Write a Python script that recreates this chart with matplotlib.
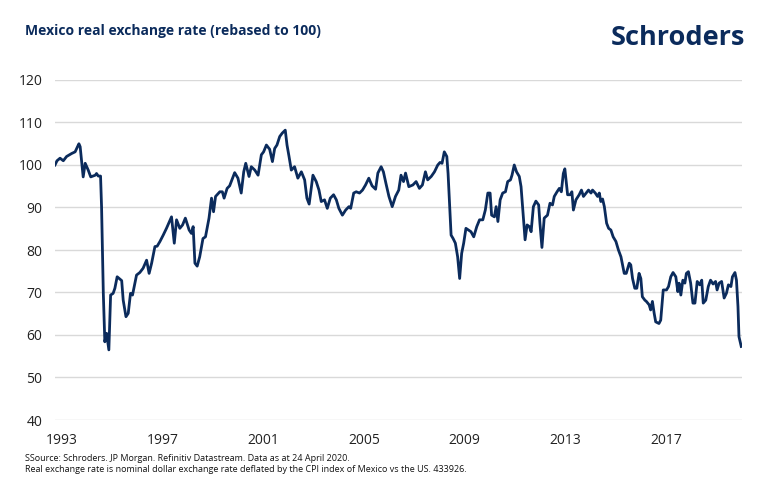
import matplotlib
matplotlib.use("Agg")
import matplotlib.pyplot as plt

# values (decimal year, index level)
years = [
    1993.00, 1993.08, 1993.20, 1993.33, 1993.46, 1993.66, 1993.80, 1993.95, 1994.00, 1994.12,
    1994.20, 1994.32, 1994.42, 1994.60, 1994.65, 1994.72, 1994.81, 1994.85, 1994.92, 1994.98,
    1995.05, 1995.14, 1995.21, 1995.31, 1995.38, 1995.47, 1995.65, 1995.71, 1995.82, 1995.91,
    1996.00, 1996.08, 1996.24, 1996.37, 1996.50, 1996.64, 1996.74, 1996.84, 1996.97, 1997.06,
    1997.17, 1997.30, 1997.43, 1997.63, 1997.74, 1997.83, 1997.96, 1998.07, 1998.18, 1998.33,
    1998.42, 1998.49, 1998.56, 1998.65, 1998.75, 1998.88, 1998.98, 1999.12, 1999.22, 1999.30,
    1999.38, 1999.55, 1999.65, 1999.72, 1999.84, 1999.94, 2000.14, 2000.27, 2000.40, 2000.50,
    2000.58, 2000.71, 2000.80, 2000.94, 2001.07, 2001.20, 2001.29, 2001.40, 2001.53, 2001.64,
    2001.73, 2001.82, 2001.93, 2002.03, 2002.15, 2002.22, 2002.30, 2002.39, 2002.52, 2002.65,
    2002.79, 2002.92, 2003.01, 2003.10, 2003.25, 2003.38, 2003.49, 2003.58, 2003.71, 2003.82,
    2003.94, 2004.07, 2004.18, 2004.28, 2004.42, 2004.55, 2004.68, 2004.75, 2004.87, 2004.97,
    2005.10, 2005.22, 2005.34, 2005.47, 2005.60, 2005.74, 2005.83, 2005.96, 2006.05, 2006.15,
    2006.27, 2006.40, 2006.53, 2006.66, 2006.75, 2006.85, 2006.93, 2007.06, 2007.22, 2007.35,
    2007.48, 2007.60, 2007.72, 2007.81, 2007.95, 2008.08, 2008.21, 2008.30, 2008.38, 2008.47,
    2008.57, 2008.62, 2008.74, 2008.82, 2008.91, 2009.00, 2009.08, 2009.16, 2009.24, 2009.33,
    2009.43, 2009.53, 2009.64, 2009.76, 2009.87, 2010.00, 2010.10, 2010.20, 2010.29, 2010.35,
    2010.46, 2010.53, 2010.60, 2010.69, 2010.79, 2010.90, 2010.99, 2011.10, 2011.16, 2011.25,
    2011.34, 2011.45, 2011.52, 2011.58, 2011.68, 2011.76, 2011.85, 2011.92, 2012.01, 2012.11,
    2012.22, 2012.27, 2012.35, 2012.44, 2012.57, 2012.67, 2012.77, 2012.84, 2012.95, 2013.04,
    2013.12, 2013.20, 2013.26, 2013.37, 2013.47, 2013.54, 2013.60, 2013.70, 2013.83, 2013.92,
    2014.00, 2014.12, 2014.20, 2014.30, 2014.36, 2014.47, 2014.56, 2014.63, 2014.69, 2014.76,
    2014.83, 2014.92, 2015.00, 2015.09, 2015.18, 2015.29, 2015.39, 2015.49, 2015.62, 2015.70,
    2015.82, 2015.88, 2015.95, 2016.04, 2016.12, 2016.21, 2016.28, 2016.34, 2016.44, 2016.50,
    2016.61, 2016.67, 2016.74, 2016.81, 2016.87, 2017.00, 2017.07, 2017.17, 2017.30, 2017.38,
    2017.47, 2017.56, 2017.67, 2017.75, 2017.80, 2017.87, 2017.95, 2018.03, 2018.09, 2018.17,
    2018.26, 2018.35, 2018.43, 2018.52, 2018.62, 2018.70, 2018.76, 2018.86, 2018.96, 2019.05,
    2019.15, 2019.25, 2019.31, 2019.39, 2019.49, 2019.59, 2019.68, 2019.76, 2019.86, 2019.92,
    2020.02, 2020.08, 2020.14, 2020.18, 2020.27,
]
rer = [
    100.0, 101.0, 101.6, 101.0, 102.0, 102.7, 103.1, 105.0, 104.3, 97.2,
    100.4, 98.8, 97.2, 97.6, 98.0, 97.4, 97.4, 90.2, 69.8, 58.4,
    60.4, 56.5, 69.4, 69.8, 71.0, 73.7, 72.8, 68.2, 64.3, 65.1,
    69.8, 69.4, 74.1, 74.7, 75.7, 77.6, 74.5, 76.9, 80.8, 80.9,
    82.0, 83.5, 85.1, 87.8, 81.6, 87.1, 85.1, 85.9, 87.5, 84.7,
    83.9, 85.5, 76.9, 76.2, 78.4, 82.7, 83.1, 87.5, 92.2, 89.0,
    92.6, 93.7, 93.7, 92.2, 94.5, 95.1, 98.2, 96.9, 93.4, 98.4,
    100.4, 97.3, 99.6, 98.8, 97.6, 102.4, 103.1, 104.7, 103.7, 100.8,
    103.9, 104.7, 106.7, 107.5, 108.2, 104.7, 102.0, 98.8, 99.6, 96.9,
    98.4, 96.5, 92.2, 90.8, 97.6, 96.1, 94.1, 91.4, 91.8, 89.8,
    92.2, 93.0, 91.8, 89.8, 88.2, 89.4, 90.2, 89.8, 93.4, 93.7,
    93.4, 94.1, 95.3, 96.9, 95.1, 94.3, 98.1, 99.6, 98.4, 95.7,
    92.6, 90.2, 92.6, 94.1, 97.6, 96.1, 98.1, 94.9, 95.3, 96.1,
    94.5, 95.3, 98.4, 96.5, 97.3, 98.4, 100.0, 100.6, 100.4, 103.1,
    102.0, 98.0, 83.5, 82.7, 81.6, 78.4, 73.3, 79.2, 81.6, 85.1,
    84.7, 84.3, 83.1, 85.5, 87.1, 87.1, 89.4, 93.4, 93.4, 88.2,
    87.8, 90.2, 86.7, 91.8, 93.4, 93.7, 96.1, 96.5, 97.6, 100.0,
    98.4, 97.3, 94.9, 90.2, 82.4, 85.9, 85.5, 84.3, 90.2, 91.5,
    90.6, 86.3, 80.6, 87.5, 88.2, 91.0, 90.6, 92.6, 93.7, 94.5,
    93.7, 98.0, 99.1, 93.0, 93.0, 93.7, 89.4, 91.8, 93.0, 94.1,
    92.6, 93.5, 94.1, 93.4, 94.1, 93.4, 92.6, 93.4, 91.4, 92.0,
    90.2, 86.3, 85.1, 84.7, 83.1, 82.0, 80.0, 78.4, 74.5, 74.5,
    76.9, 76.5, 73.3, 71.0, 71.0, 74.5, 73.3, 69.0, 68.2, 67.9,
    67.1, 65.9, 67.9, 65.1, 63.1, 62.7, 63.5, 70.6, 70.6, 71.4,
    73.7, 74.7, 73.7, 70.2, 72.2, 69.4, 72.9, 72.2, 74.5, 74.9,
    72.2, 67.5, 67.5, 72.6, 71.8, 72.9, 67.5, 68.2, 71.4, 72.9,
    72.0, 72.6, 70.6, 72.2, 72.6, 68.7, 69.8, 71.8, 71.4, 73.7,
    74.7, 72.9, 66.7, 59.6, 57.3,
]

tick_years = [1993, 1997, 2001, 2005, 2009, 2013, 2017]
y_ticks = [40, 50, 60, 70, 80, 90, 100, 110, 120]

navy = "#0b2b5c"
plt.rcParams["font.family"] = ["Open Sans", "DejaVu Sans"]

fig = plt.figure(figsize=(7.7, 4.9), dpi=100)
fig.patch.set_facecolor("white")
ax = fig.add_axes([55 / 770, 70 / 490, 687 / 770, 340 / 490])

ax.plot(years, rer, color=navy, linewidth=2.0, solid_joinstyle="round", zorder=3)

ax.set_xlim(1993.0, 2020.3)
ax.set_ylim(40, 120)
ax.set_yticks(y_ticks)
ax.set_xticks([y + 0.28 for y in tick_years])
ax.set_xticklabels([str(y) for y in tick_years])
ax.grid(True, axis="y", color="#d9d9d9", linewidth=1.0, zorder=0)
for s in ax.spines.values():
    s.set_visible(False)
ax.tick_params(axis="both", length=0, labelsize=10, colors="#222222")
ax.tick_params(axis="y", pad=9)
ax.tick_params(axis="x", pad=9)

fig.text(25 / 770, 1 - 31 / 490, "Mexico real exchange rate (rebased to 100)",
         fontsize=10, fontweight="bold", color=navy, va="center", ha="left")
fig.text(745 / 770, 1 - 38 / 490, "Schroders", fontsize=19.5, fontweight="bold",
         color=navy, va="center", ha="right")
fig.text(25 / 770, 1 - 458 / 490,
         "SSource: Schroders. JP Morgan. Refinitiv Datastream. Data as at 24 April 2020.",
         fontsize=6.5, color="#111111", va="center", ha="left")
fig.text(25 / 770, 1 - 469 / 490,
         "Real exchange rate is nominal dollar exchange rate deflated by the CPI index of Mexico vs the US. 433926.",
         fontsize=6.5, color="#111111", va="center", ha="left")

fig.savefig("out.png", dpi=100, facecolor="white")
